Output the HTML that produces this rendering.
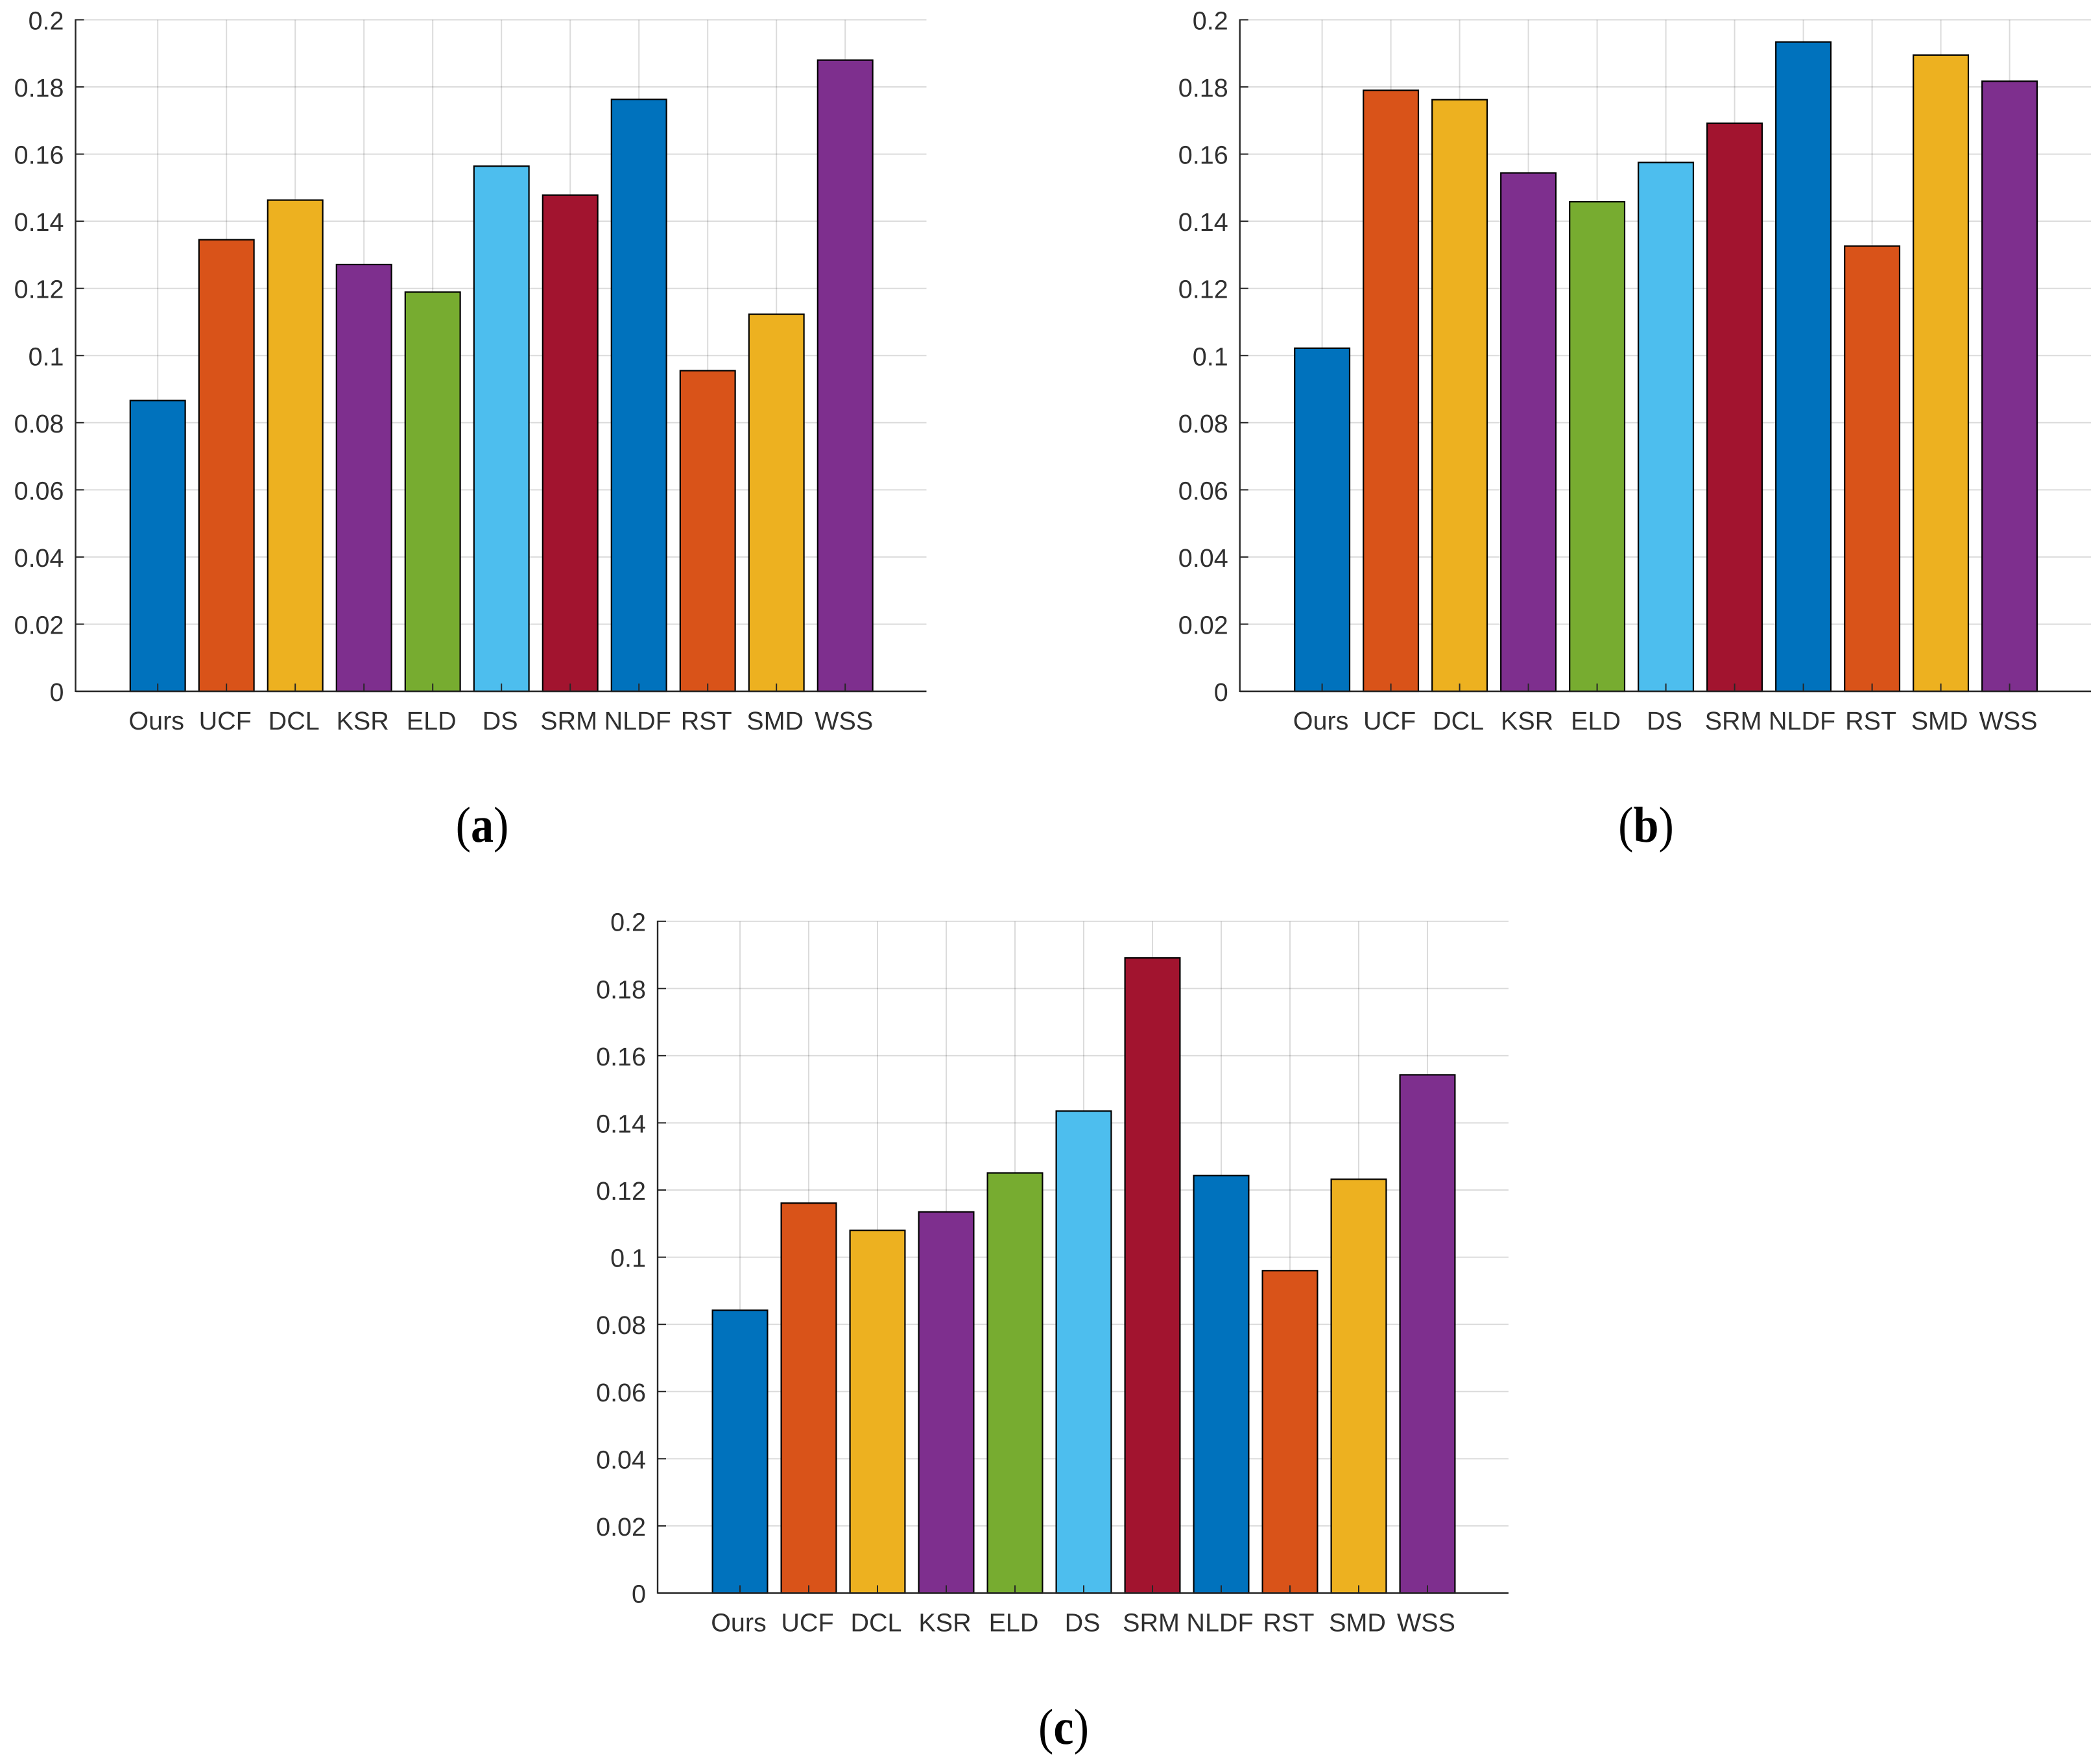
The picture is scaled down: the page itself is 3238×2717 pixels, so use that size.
<!DOCTYPE html>
<html lang="en">
<head>
<meta charset="utf-8">
<title>Grouped comparison bar charts</title>
<style>
  html, body { margin: 0; padding: 0; background: #fff; }
  #figure { display: block; width: 3238px; height: 2717px; background: #fff; text-rendering: geometricPrecision; }
  .tick-label { font-family: "Liberation Sans", Arial, sans-serif; font-size: 39.5px; fill: #303030; }
  .caption { font-family: "Liberation Serif", "Times New Roman", serif; font-size: 78px; fill: #000; }
  .caption .letter { font-weight: bold; }
</style>
</head>
<body>
<svg id="figure" xmlns="http://www.w3.org/2000/svg" width="3238" height="2717" viewBox="0 0 3238 2717">
  <g id="chart-a"></g>
  <g id="chart-b"></g>
  <g id="chart-c"></g>
  <text class="caption" text-anchor="middle" transform="translate(743.5 1298) scale(.9 1)">(<tspan class="letter">a</tspan>)</text>
  <text class="caption" text-anchor="middle" transform="translate(2538 1298) scale(.9 1)">(<tspan class="letter">b</tspan>)</text>
  <text class="caption" text-anchor="middle" transform="translate(1640 2689) scale(.9 1)">(<tspan class="letter">c</tspan>)</text>
</svg>
<script>
const categories = ['Ours', 'UCF', 'DCL', 'KSR', 'ELD', 'DS', 'SRM', 'NLDF', 'RST', 'SMD', 'WSS'];
const yTicks = [0, 0.02, 0.04, 0.06, 0.08, 0.1, 0.12, 0.14, 0.16, 0.18, 0.2];
const yTickLabels = ['0', '0.02', '0.04', '0.06', '0.08', '0.1', '0.12', '0.14', '0.16', '0.18', '0.2'];
const seriesA = [0.0866, 0.1345, 0.1463, 0.1271, 0.1189, 0.1564, 0.1478, 0.1763, 0.0955, 0.1123, 0.1880];
const seriesB = [0.1022, 0.1790, 0.1762, 0.1544, 0.1458, 0.1575, 0.1692, 0.1934, 0.1326, 0.1895, 0.1817];
const seriesC = [0.0842, 0.1161, 0.1080, 0.1135, 0.1251, 0.1435, 0.1891, 0.1243, 0.0960, 0.1232, 0.1543];
const barColors = ['#0072BD', '#D95319', '#EDB120', '#7E2F8E', '#77AC30', '#4DBEEE', '#A2142F', '#0072BD', '#D95319', '#EDB120', '#7E2F8E'];

const SVG_NS = 'http://www.w3.org/2000/svg';

function make(parent, tag, attrs) {
  const el = document.createElementNS(SVG_NS, tag);
  for (const key in attrs) el.setAttribute(key, attrs[key]);
  parent.appendChild(el);
  return el;
}

function drawChart(groupId, values, box) {
  const root = document.getElementById(groupId);
  const yMax = yTicks[yTicks.length - 1];
  const y = v => box.bottom - (v / yMax) * (box.bottom - box.top);
  const x = i => box.firstX + i * box.step;
  const barWidth = box.step * 0.8;

  yTicks.forEach(t => {
    const g = make(root, 'line', { x1: box.left, x2: box.right, y1: y(t), y2: y(t), stroke: '#000', 'stroke-opacity': 0.14, 'stroke-width': 2 });
    
    
  });
  categories.forEach((c, i) => {
    const g = make(root, 'line', { x1: x(i), x2: x(i), y1: box.top, y2: box.bottom, stroke: '#000', 'stroke-opacity': 0.14, 'stroke-width': 2 });
    
    
  });

  values.forEach((v, i) => {
    const bar = make(root, 'rect', {
      x: x(i) - barWidth / 2, y: y(v), width: barWidth, height: y(0) - y(v),
      fill: barColors[i], stroke: '#000', 'stroke-width': 2.2
    });
    
    
  });

  yTicks.forEach((t, i) => {
    const tick = make(root, 'line', { x1: box.left, x2: box.left + 13, y1: y(t), y2: y(t), stroke: '#262626', 'stroke-width': 2 });
    
    
    const label = make(root, 'text', { class: 'tick-label', x: box.left - 18, y: y(t) + 15, 'text-anchor': 'end' });
    label.textContent = yTickLabels[i];
    
    
  });

  categories.forEach((c, i) => {
    const tick = make(root, 'line', { x1: x(i), x2: x(i), y1: box.bottom, y2: box.bottom - 12, stroke: '#262626', 'stroke-width': 2 });
    
    
    const label = make(root, 'text', { class: 'tick-label', x: x(i) - 2, y: box.bottom + 59, 'text-anchor': 'middle' });
    label.textContent = c;
    
    
  });

  const yAxis = make(root, 'line', { x1: box.left, x2: box.left, y1: box.top - 1, y2: box.bottom + 1, stroke: '#262626', 'stroke-width': 2.4 });
  
  
  const xAxis = make(root, 'line', { x1: box.left, x2: box.right, y1: box.bottom, y2: box.bottom, stroke: '#262626', 'stroke-width': 2.4 });
  
  
}

drawChart('chart-a', seriesA, { left: 116.5, right: 1428.5, top: 30.5, bottom: 1066, firstX: 243.2, step: 106 });
drawChart('chart-b', seriesB, { left: 1911.7, right: 3224, top: 30.5, bottom: 1066, firstX: 2038.6, step: 106 });
drawChart('chart-c', seriesC, { left: 1014, right: 2326, top: 1420.7, bottom: 2456.5, firstX: 1141, step: 106 });
</script>
</body>
</html>
